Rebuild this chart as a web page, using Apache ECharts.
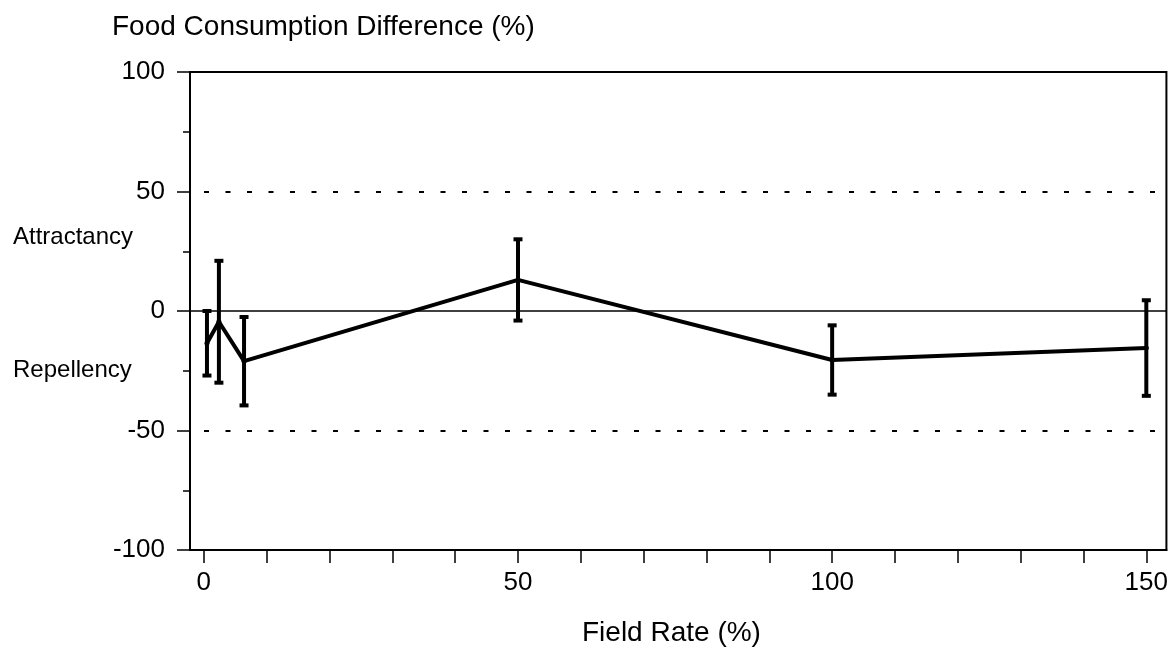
<!DOCTYPE html>
<html>
<head>
<meta charset="utf-8">
<script src="https://cdn.jsdelivr.net/npm/echarts@6.0.0/dist/echarts.min.js"></script>
<style>
  html, body { margin: 0; padding: 0; background: #fff; }
  #chart { width: 1171px; height: 649px; }
</style>
</head>
<body>
<div id="chart"></div>
<script>
// Field rate (%) of each treatment
const fieldRates = [0.5, 2.4, 6.4, 50, 100, 150];
// Mean food consumption difference (%) and its error (+/-)
const meanDiff = [-13.5, -4.5, -21, 13, -20.5, -15.5];
const errDiff = [13.5, 25.5, 18.5, 17, 14.5, 20];

// Axis tick positions and labels
const xTickValues = [0, 10, 20, 30, 40, 50, 60, 70, 80, 90, 100, 110, 120, 130, 140, 150];
const xLabelValues = [0, 50, 100, 150];
const yGuides = [50, -50];

const FONT = '"Liberation Sans", Arial, Helvetica, sans-serif';

const linePoints = fieldRates.map((x, i) => [x, meanDiff[i]]);
const errPoints = fieldRates.map((x, i) => [x, meanDiff[i] - errDiff[i], meanDiff[i] + errDiff[i]]);

const chart = echarts.init(document.getElementById('chart'), null, { renderer: 'canvas' });

chart.setOption({
  backgroundColor: '#ffffff',
  animation: false,
  grid: {
    left: 190, right: 4, top: 72, bottom: 99,
    show: true, borderColor: '#000', borderWidth: 2, backgroundColor: 'transparent'
  },
  xAxis: {
    type: 'value',
    min: -2.2, max: 153.2,
    splitLine: { show: false },
    axisLine: { show: true, onZero: false, lineStyle: { color: '#000', width: 2 } },
    axisTick: { show: true, length: 13, customValues: xTickValues, lineStyle: { color: '#000', width: 1.5 } },
    axisLabel: {
      customValues: xLabelValues, margin: 20,
      color: '#000', fontSize: 26, fontFamily: FONT
    }
  },
  yAxis: {
    type: 'value',
    min: -100, max: 100, interval: 50,
    splitLine: { show: false },
    axisLine: { show: true, onZero: false, lineStyle: { color: '#000', width: 2 } },
    axisTick: { show: true, length: 13, lineStyle: { color: '#000', width: 1.5 } },
    minorTick: { show: true, splitNumber: 2, length: 7, lineStyle: { color: '#000', width: 1.5 } },
    axisLabel: { margin: 25, color: '#000', fontSize: 26, fontFamily: FONT }
  },
  graphic: [
    { type: 'text', left: 112, top: 27 - 14, style: { text: 'Food Consumption Difference (%)', fill: '#000', font: '28px ' + FONT } },
    { type: 'text', left: 13, top: 237 - 12, style: { text: 'Attractancy', fill: '#000', font: '24px ' + FONT } },
    { type: 'text', left: 13, top: 370 - 12, style: { text: 'Repellency', fill: '#000', font: '24px ' + FONT } },
    { type: 'text', left: 582, top: 633 - 14, style: { text: 'Field Rate (%)', fill: '#000', font: '28px ' + FONT } }
  ],
  series: [
    {
      type: 'line',
      data: linePoints,
      symbol: 'circle',
      symbolSize: 5,
      itemStyle: { color: '#000' },
      lineStyle: { color: '#000', width: 4 },
      z: 3,
      markLine: {
        silent: true,
        symbol: 'none',
        label: { show: false },
        data: [
          { yAxis: 0, lineStyle: { type: 'solid', width: 1.5, color: '#000' } },
          ...yGuides.map(v => ({ yAxis: v, lineStyle: { type: [5, 16.5], dashOffset: -14, width: 2, color: '#000' } }))
        ]
      }
    },
    {
      type: 'custom',
      data: errPoints,
      z: 4,
      renderItem: function (params, api) {
        const x = api.value(0);
        const lo = api.coord([x, api.value(1)]);
        const hi = api.coord([x, api.value(2)]);
        const half = 4.5;
        const style = { stroke: '#000', lineWidth: 4 };
        return {
          type: 'group',
          children: [
            { type: 'line', shape: { x1: lo[0], y1: lo[1], x2: hi[0], y2: hi[1] }, style: style },
            { type: 'line', shape: { x1: lo[0] - half, y1: lo[1], x2: lo[0] + half, y2: lo[1] }, style: style },
            { type: 'line', shape: { x1: hi[0] - half, y1: hi[1], x2: hi[0] + half, y2: hi[1] }, style: style }
          ]
        };
      }
    }
  ]
});
</script>
</body>
</html>
